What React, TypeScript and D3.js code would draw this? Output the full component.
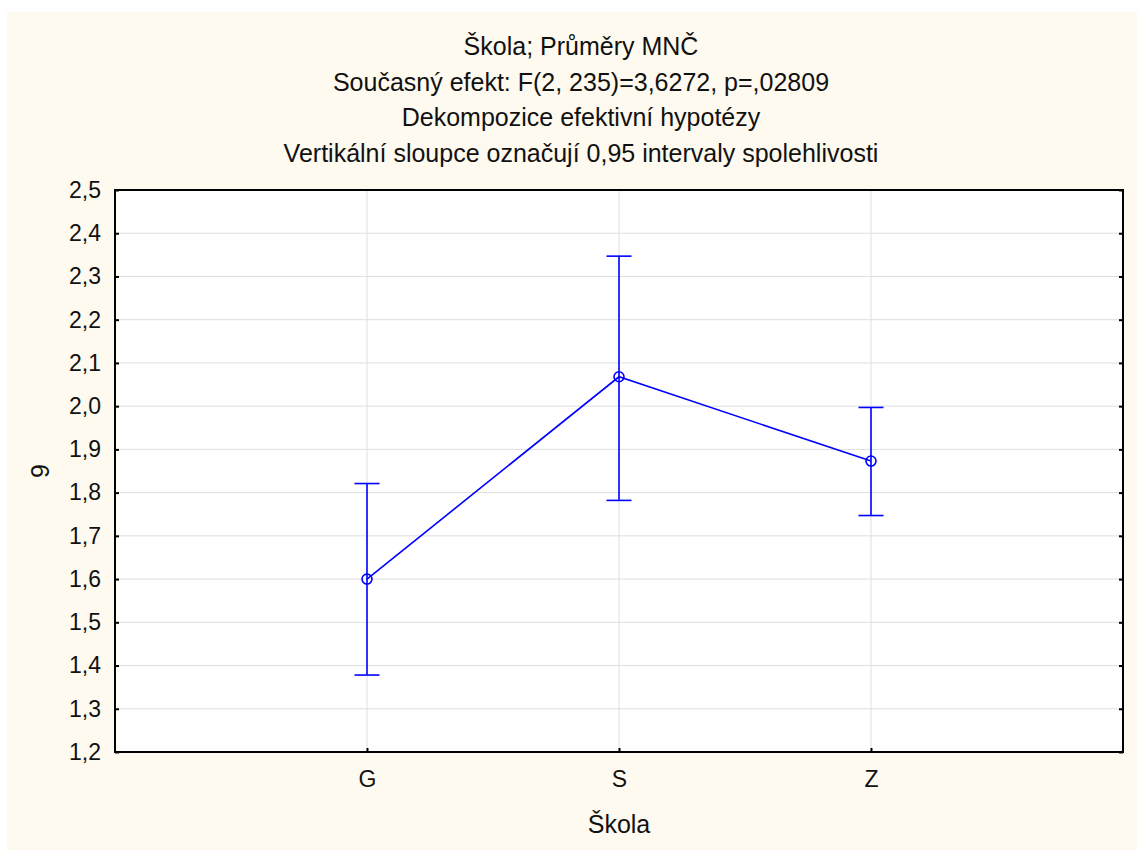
import React, { useEffect, useRef } from 'react';
import * as d3 from 'd3';

// data
const categories = ['G', 'S', 'Z'];
const means = [1.6, 2.068, 1.873];
const upper = [1.821, 2.347, 1.997];
const lower = [1.378, 1.782, 1.747];
const yTicks = [1.2, 1.3, 1.4, 1.5, 1.6, 1.7, 1.8, 1.9, 2.0, 2.1, 2.2, 2.3, 2.4, 2.5];
const titleLines = [
  'Škola; Průměry MNČ',
  'Současný efekt: F(2, 235)=3,6272, p=,02809',
  'Dekompozice efektivní hypotézy',
  'Vertikální sloupce označují 0,95 intervaly spolehlivosti',
];
const xTitle = 'Škola';
const yTitle = '9';

export default function App() {
  const ref = useRef<SVGSVGElement>(null);

  useEffect(() => {
    draw();
  }, []);

  function draw() {
    const width = 1137;
    const height = 850;
    const margin = { top: 190, right: 14, bottom: 98, left: 115 };
    const innerWidth = width - margin.left - margin.right;
    const innerHeight = height - margin.top - margin.bottom;
    const font = '"Liberation Sans", Arial, sans-serif';
    const tickSize = 23;
    const titleSize = 25;
    const blue = '#0000ff';

    const svg = d3.select(ref.current);
    svg.selectAll('*').remove();

    svg.append('rect').attr('x', 7).attr('y', 12).attr('width', width - 7).attr('height', height - 12).attr('fill', '#fefaef');

    // titles
    svg.selectAll('.title')
      .data(titleLines)
      .enter()
      .append('text')
      .attr('class', 'title')
      .text((d) => d)
      .attr('x', 581)
      .attr('y', (d, i) => 55 + i * 35.7)
      .attr('text-anchor', 'middle')
      .attr('font-family', font)
      .attr('font-size', titleSize)
      .attr('fill', '#111');

    const g = svg.append('g').attr('transform', `translate(${margin.left},${margin.top})`);

    const xScale = d3.scalePoint().domain(categories).range([0, innerWidth]).padding(1);
    const yScale = d3.scaleLinear().domain([1.2, 2.5]).range([innerHeight, 0]);

    g.append('rect').attr('width', innerWidth).attr('height', innerHeight).attr('fill', '#fff');

    // grid
    g.selectAll('.hgrid')
      .data(yTicks.slice(1, -1))
      .enter()
      .append('line')
      .attr('x1', 0)
      .attr('x2', innerWidth)
      .attr('y1', (d) => yScale(d))
      .attr('y2', (d) => yScale(d))
      .attr('stroke', '#dedede')
      .attr('stroke-width', 1);
    g.selectAll('.vgrid')
      .data(categories)
      .enter()
      .append('line')
      .attr('x1', (d) => xScale(d)!)
      .attr('x2', (d) => xScale(d)!)
      .attr('y1', 0)
      .attr('y2', innerHeight)
      .attr('stroke', '#dedede')
      .attr('stroke-width', 1);

    // axes
    const yAxis = d3.axisLeft(yScale).tickValues(yTicks).tickSize(-4).tickPadding(14)
      .tickFormat((d) => d3.format('.1f')(d as number).replace('.', ','));
    const ya = g.append('g').call(yAxis);
    ya.select('.domain').remove();
    ya.selectAll('line').attr('stroke', '#000').attr('stroke-width', 2);
    ya.selectAll('text').attr('font-family', font).attr('font-size', tickSize).attr('fill', '#111');

    const yAxisR = d3.axisRight(yScale).tickValues(yTicks).tickSize(-4).tickFormat(() => '');
    const yr = g.append('g').attr('transform', `translate(${innerWidth},0)`).call(yAxisR);
    yr.select('.domain').remove();
    yr.selectAll('line').attr('stroke', '#000').attr('stroke-width', 2);

    const xAxis = d3.axisBottom(xScale).tickSize(-4).tickPadding(19);
    const xa = g.append('g').attr('transform', `translate(0,${innerHeight})`).call(xAxis);
    xa.select('.domain').remove();
    xa.selectAll('line').attr('stroke', '#000').attr('stroke-width', 2);
    xa.selectAll('text').attr('font-family', font).attr('font-size', tickSize).attr('fill', '#111');

    g.append('rect')
      .attr('width', innerWidth)
      .attr('height', innerHeight)
      .attr('fill', 'none')
      .attr('stroke', '#000')
      .attr('stroke-width', 2);

    // error bars
    const capHalf = 12.5;
    categories.forEach((c, i) => {
      const x = xScale(c)!;
      g.append('line')
        .attr('x1', x).attr('x2', x)
        .attr('y1', yScale(upper[i])).attr('y2', yScale(lower[i]))
        .attr('stroke', blue).attr('stroke-width', 1.6);
      [upper[i], lower[i]].forEach((v) => {
        g.append('line')
          .attr('x1', x - capHalf).attr('x2', x + capHalf)
          .attr('y1', yScale(v)).attr('y2', yScale(v))
          .attr('stroke', blue).attr('stroke-width', 1.6);
      });
    });

    const line = d3.line<number>()
      .x((d, i) => xScale(categories[i])!)
      .y((d) => yScale(d));
    g.append('path').datum(means).attr('d', line).attr('fill', 'none').attr('stroke', blue).attr('stroke-width', 1.6);

    g.selectAll('.pt')
      .data(means)
      .enter()
      .append('circle')
      .attr('cx', (d, i) => xScale(categories[i])!)
      .attr('cy', (d) => yScale(d))
      .attr('r', 5)
      .attr('fill', 'none')
      .attr('stroke', blue)
      .attr('stroke-width', 1.6);

    // axis titles
    svg.append('text')
      .text(xTitle)
      .attr('x', margin.left + innerWidth / 2)
      .attr('y', 833)
      .attr('text-anchor', 'middle')
      .attr('font-family', font)
      .attr('font-size', titleSize)
      .attr('fill', '#111');
    svg.append('text')
      .text(yTitle)
      .attr('transform', `translate(49,${margin.top + innerHeight / 2}) rotate(-90)`)
      .attr('text-anchor', 'middle')
      .attr('font-family', font)
      .attr('font-size', titleSize)
      .attr('fill', '#111');
  }

  return (
    <svg
      ref={ref}
      width={1137}
      height={850}
      style={{ position: 'absolute', left: 0, top: 0 }}
    ></svg>
  );
}
